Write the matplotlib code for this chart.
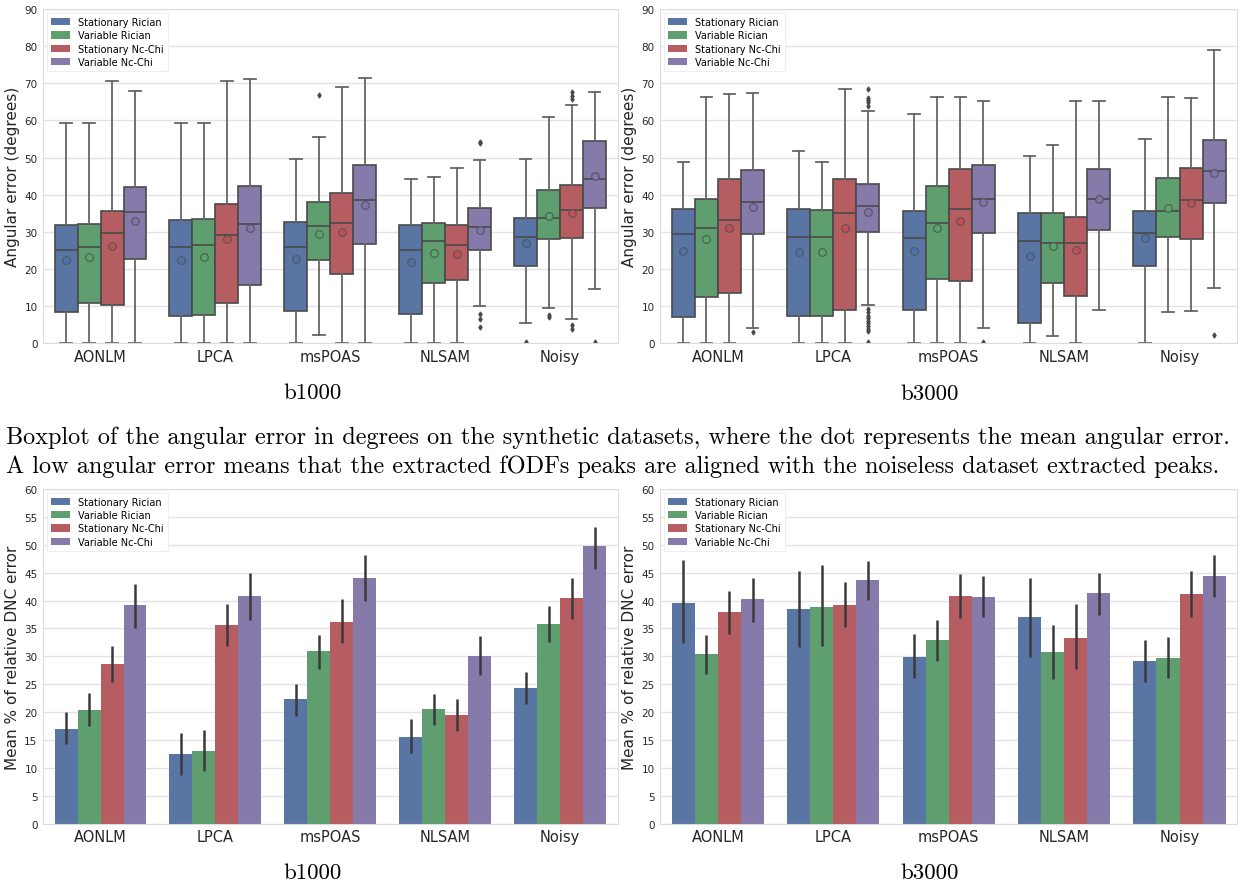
import numpy as np
import matplotlib.pyplot as plt
from matplotlib.patches import Patch

methods = ['AONLM', 'LPCA', 'msPOAS', 'NLSAM', 'Noisy']
noise_types = ['Stationary Rician', 'Variable Rician', 'Stationary Nc-Chi', 'Variable Nc-Chi']
colors = ['#5875A4', '#5F9E6E', '#B55D60', '#857AAA']
mean_colors = ['#4C72B0', '#55A868', '#C44E52', '#8172B2']

# angular error (degrees), rows = noise type, columns = method
b1000_lo = [[0, 0, 0, 0, 5.3], [0, 0, 2.2, 0, 9.4], [0, 0, 0, 0, 6.6], [0, 0, 0, 9.9, 14.6]]
b1000_q1 = [[8.3, 7.2, 8.6, 7.9, 20.9], [10.9, 7.5, 22.3, 16.3, 28.1],
            [10.2, 10.9, 18.5, 16.9, 28.4], [22.7, 15.8, 26.7, 25.1, 36.5]]
b1000_med = [[25.2, 26.0, 25.8, 25.0, 28.6], [25.8, 26.4, 31.5, 27.5, 33.8],
             [29.8, 29.1, 32.5, 26.4, 35.9], [35.4, 32.0, 38.5, 31.4, 44.1]]
b1000_q3 = [[31.8, 33.1, 32.7, 31.7, 33.6], [32.0, 33.5, 38.1, 32.5, 41.3],
            [35.6, 37.6, 40.5, 31.8, 42.7], [42.1, 42.4, 48.0, 36.3, 54.6]]
b1000_hi = [[59.4, 59.4, 49.5, 44.2, 49.5], [59.4, 59.4, 55.5, 44.9, 60.9],
            [70.6, 70.6, 69.1, 47.2, 64.2], [68.0, 71.2, 71.5, 49.4, 67.7]]
b1000_mean = [[22.4, 22.4, 22.6, 21.8, 26.9], [23.1, 23.1, 29.4, 24.4, 34.2],
              [26.3, 28.1, 30.0, 24.0, 35.2], [33.0, 31.1, 37.3, 30.6, 45.1]]
b1000_fliers = [[[], [], [], [], [0.3]],
                [[], [], [66.9], [], [7.6, 7.0]],
                [[], [], [], [], [67.6, 66.7, 65.8, 4.8, 3.9]],
                [[], [], [], [54.1, 53.8, 7.9, 6.6, 4.3], [0.3]]]

b3000_lo = [[0, 0, 0, 0, 0], [0, 0, 0, 2.0, 8.3], [0, 0, 0, 0, 8.6], [4.1, 10.4, 4.1, 9.0, 14.9]]
b3000_q1 = [[7.1, 7.4, 8.8, 5.5, 20.7], [12.4, 7.4, 17.4, 16.2, 28.5],
            [13.6, 8.8, 16.8, 12.7, 28.0], [29.5, 29.9, 29.6, 30.5, 37.7]]
b3000_med = [[29.3, 28.5, 28.4, 27.4, 29.7], [30.9, 28.6, 32.5, 27.1, 35.7],
             [33.3, 35.0, 36.1, 26.9, 38.5], [38.0, 37.0, 38.9, 38.8, 46.4]]
b3000_q3 = [[36.1, 36.1, 35.7, 35.0, 35.7], [38.8, 35.8, 42.4, 35.2, 44.4],
            [44.1, 44.3, 47.0, 33.9, 47.2], [46.6, 43.0, 48.1, 46.8, 54.7]]
b3000_hi = [[48.9, 51.7, 61.7, 50.5, 55.1], [66.3, 48.9, 66.3, 53.5, 66.3],
            [67.2, 68.4, 66.3, 65.2, 66.0], [67.3, 62.5, 65.2, 65.3, 79.1]]
b3000_mean = [[24.9, 24.5, 24.7, 23.4, 28.3], [28.1, 24.5, 31.0, 26.1, 36.3],
              [31.1, 30.9, 32.8, 25.0, 37.8], [36.8, 35.3, 38.0, 38.8, 45.8]]
b3000_fliers = [[[], [], [], [], []],
                [[], [], [], [], []],
                [[], [], [], [], []],
                [[3.1], [68.6, 66.0, 65.5, 64.9, 64.0, 9.2, 8.3, 7.4, 6.7, 6.0, 5.3, 4.6, 3.9, 3.2, 0.3],
                 [0.3], [], [2.2]]]

# mean % of relative DNC error with confidence interval
dnc1000_mean = [[17.0, 12.5, 22.4, 15.6, 24.4], [20.4, 13.0, 30.9, 20.6, 35.8],
                [28.7, 35.6, 36.2, 19.5, 40.5], [39.2, 40.8, 44.1, 30.1, 49.8]]
dnc1000_low = [[14.3, 8.8, 19.4, 12.7, 21.4], [17.5, 9.4, 27.8, 17.8, 32.5],
               [25.5, 31.8, 32.4, 16.6, 36.7], [35.1, 36.6, 40.0, 26.7, 45.7]]
dnc1000_high = [[20.0, 16.3, 25.1, 18.8, 27.2], [23.4, 16.9, 33.9, 23.3, 39.0],
                [31.9, 39.3, 40.2, 22.4, 44.1], [43.0, 45.0, 48.1, 33.6, 53.1]]

dnc3000_mean = [[39.6, 38.4, 29.9, 37.0, 29.1], [30.4, 38.9, 33.0, 30.7, 29.7],
                [38.0, 39.2, 40.8, 33.3, 41.1], [40.2, 43.7, 40.6, 41.3, 44.4]]
dnc3000_low = [[32.4, 31.7, 26.1, 29.9, 25.5], [26.9, 31.9, 29.2, 26.0, 26.2],
               [34.0, 35.2, 36.8, 27.8, 37.1], [36.2, 40.1, 37.1, 37.4, 40.7]]
dnc3000_high = [[47.3, 45.3, 34.1, 44.0, 33.0], [33.8, 46.4, 36.6, 35.7, 33.4],
                [41.7, 43.3, 44.8, 39.3, 45.3], [44.0, 47.0, 44.4, 44.9, 48.2]]

gray = '#4a4a4a'
offsets = [-0.3, -0.1, 0.1, 0.3]


def style_axes(ax, ymax, ystep, ylabel):
    ax.set_xlim(-0.5, len(methods) - 0.5)
    ax.set_ylim(0, ymax)
    ax.set_yticks(np.arange(0, ymax + 1, ystep))
    ax.set_xticks(np.arange(len(methods)))
    ax.set_xticklabels(methods, fontsize=10.5, color='#262626')
    ax.tick_params(axis='y', labelsize=7.5, colors='#262626', length=0, pad=4)
    ax.tick_params(axis='x', length=0, pad=4)
    ax.set_ylabel(ylabel, fontsize=11, color='#262626', labelpad=3)
    ax.yaxis.grid(True, color='#e3e3e3', linewidth=1)
    ax.xaxis.grid(False)
    ax.set_axisbelow(True)
    for s in ax.spines.values():
        s.set_color('#dcdcdc')
    handles = [Patch(facecolor=c, edgecolor='none', label=n) for c, n in zip(colors, noise_types)]
    leg = ax.legend(handles=handles, loc='upper left', fontsize=7, frameon=True,
                    framealpha=1, borderaxespad=0.4, handlelength=2.0, handleheight=0.8,
                    labelspacing=0.35, fancybox=False)
    leg.get_frame().set_edgecolor('#eeeeee')
    leg.get_frame().set_linewidth(0.8)


def draw_boxes(ax, lo, q1, med, q3, hi, mean, fliers):
    x = np.arange(len(methods))
    for i in range(len(noise_types)):
        stats = []
        for j in range(len(methods)):
            stats.append(dict(whislo=lo[i][j], q1=q1[i][j], med=med[i][j], q3=q3[i][j],
                              whishi=hi[i][j], mean=mean[i][j], fliers=fliers[i][j]))
        ax.bxp(stats, positions=x + offsets[i], widths=0.2, patch_artist=True,
               showmeans=True, manage_ticks=False,
               boxprops=dict(facecolor=colors[i], edgecolor=gray, linewidth=1.2),
               medianprops=dict(color=gray, linewidth=1.2),
               whiskerprops=dict(color='#666666', linewidth=1.3),
               capprops=dict(color='#666666', linewidth=1.3),
               flierprops=dict(marker='d', markersize=2.5, markerfacecolor=gray,
                               markeredgecolor=gray, linestyle='none'),
               meanprops=dict(marker='o', markersize=5.5, markerfacecolor=mean_colors[i],
                              markeredgecolor='#555555', markeredgewidth=0.8,
                              linestyle='none', zorder=5))
    style_axes(ax, 90, 10, 'Angular error (degrees)')


def draw_bars(ax, mean, low, high):
    x = np.arange(len(methods))
    for i in range(len(noise_types)):
        ax.bar(x + offsets[i], mean[i], width=0.2, color=colors[i], linewidth=0)
        ax.vlines(x + offsets[i], low[i], high[i], color='#3a3a3a', linewidth=1.8)
    style_axes(ax, 60, 5, 'Mean % of relative DNC error')


fig = plt.figure(figsize=(12.41, 8.87), dpi=100)
ax1 = fig.add_axes([0.0347, 0.612, 0.463, 0.3766])
ax2 = fig.add_axes([0.532, 0.612, 0.465, 0.3766])
ax3 = fig.add_axes([0.0347, 0.070, 0.463, 0.3777])
ax4 = fig.add_axes([0.532, 0.070, 0.465, 0.3777])

draw_boxes(ax1, b1000_lo, b1000_q1, b1000_med, b1000_q3, b1000_hi, b1000_mean, b1000_fliers)
draw_boxes(ax2, b3000_lo, b3000_q1, b3000_med, b3000_q3, b3000_hi, b3000_mean, b3000_fliers)
draw_bars(ax3, dnc1000_mean, dnc1000_low, dnc1000_high)
draw_bars(ax4, dnc3000_mean, dnc3000_low, dnc3000_high)

serif = 'cmr10'
fig.text(0.252, 0.557, 'b1000', fontsize=16.5, family=serif, ha='center', va='center')
fig.text(0.749, 0.555, 'b3000', fontsize=16.5, family=serif, ha='center', va='center')
fig.text(0.252, 0.016, 'b1000', fontsize=16.5, family=serif, ha='center', va='center')
fig.text(0.749, 0.016, 'b3000', fontsize=16.5, family=serif, ha='center', va='center')
fig.text(0.005, 0.506, 'Boxplot of the angular error in degrees on the synthetic datasets, '
         'where the dot represents the mean angular error.',
         fontsize=17.45, family=serif, ha='left', va='center')
fig.text(0.005, 0.4735, 'A low angular error means that the extracted fODFs peaks are aligned '
         'with the noiseless dataset extracted peaks.',
         fontsize=17.45, family=serif, ha='left', va='center')

fig.savefig('out.png', dpi=100)
